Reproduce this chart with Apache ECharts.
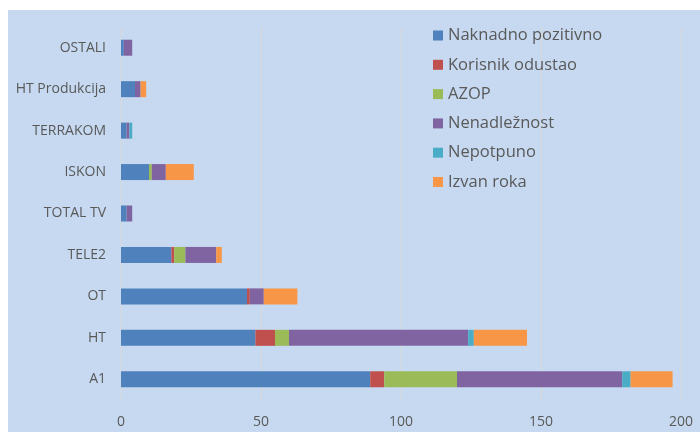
<!DOCTYPE html>
<html>
<head>
<meta charset="utf-8">
<script src="https://cdn.jsdelivr.net/npm/echarts@6/dist/echarts.min.js"></script>
<style>
  html, body { margin: 0; padding: 0; background: #fff; }
  #chart { width: 700px; height: 432px; }
</style>
</head>
<body>
<div id="chart"></div>
<script>
// categories bottom to top (category axis starts at the bottom)
const categories = ['A1', 'HT', 'OT', 'TELE2', 'TOTAL TV', 'ISKON', 'TERRAKOM', 'HT Produkcija', 'OSTALI'];
const seriesNames = ['Naknadno pozitivno', 'Korisnik odustao', 'AZOP', 'Nenadležnost', 'Nepotpuno', 'Izvan roka'];
const naknadnoPozitivno = [89, 48, 45, 18, 2, 10, 2, 5, 1];
const korisnikOdustao   = [5, 7, 1, 1, 0, 0, 0, 0, 0];
const azop              = [26, 5, 0, 4, 0, 1, 0, 0, 0];
const nenadleznost      = [59, 64, 5, 11, 2, 5, 1, 2, 3];
const nepotpuno         = [3, 2, 0, 0, 0, 0, 1, 0, 0];
const izvanRoka         = [15, 19, 12, 2, 0, 10, 0, 2, 0];
const xTicks = [0, 50, 100, 150, 200];

const colors = ['#4f81bd', '#c0504d', '#9bbb59', '#8064a2', '#4bacc6', '#f79646'];
const values = [naknadnoPozitivno, korisnikOdustao, azop, nenadleznost, nepotpuno, izvanRoka];
const font = "'Open Sans', 'DejaVu Sans', sans-serif";

const chart = echarts.init(document.getElementById('chart'));
chart.setOption({
  animation: false,
  backgroundColor: '#ffffff',
  color: colors,
  graphic: [{
    type: 'rect',
    z: -10,
    shape: { x: 8, y: 10, width: 692, height: 422 },
    style: { fill: '#c6d9f0' }
  }],
  legend: {
    orient: 'vertical',
    left: 428,
    top: 22,
    itemWidth: 10,
    itemHeight: 10,
    itemGap: 12.3,
    icon: 'rect',
    data: seriesNames,
    textStyle: { color: '#595959', fontSize: 16.5, fontFamily: font }
  },
  grid: { left: 121, right: 19, top: 27, bottom: 32 },
  xAxis: {
    type: 'value',
    min: xTicks[0],
    max: xTicks[xTicks.length - 1],
    interval: 50,
    axisLine: { show: false },
    axisTick: { show: false },
    splitLine: { show: true, lineStyle: { color: '#d9d9d9', width: 1 } },
    axisLabel: { color: '#595959', fontSize: 14, fontFamily: font, margin: 15 }
  },
  yAxis: {
    type: 'category',
    data: categories,
    axisLine: { show: false },
    axisTick: { show: false },
    axisLabel: { color: '#595959', fontSize: 14, fontFamily: font, margin: 15 }
  },
  series: seriesNames.map((name, i) => ({
    name: name,
    type: 'bar',
    stack: 'total',
    barWidth: 16,
    data: values[i],
    itemStyle: { color: colors[i] }
  }))
});
</script>
</body>
</html>
